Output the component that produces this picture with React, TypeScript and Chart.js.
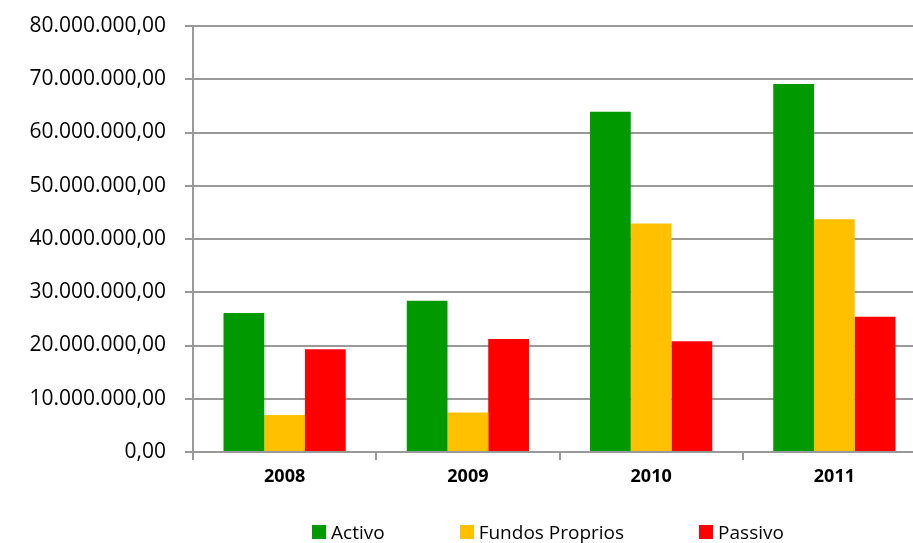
import React, { useEffect, useRef } from "react";
import { Chart, registerables } from "chart.js";

Chart.register(...registerables);

const categories = ["2008", "2009", "2010", "2011"];
const activo = [26100000, 28400000, 63900000, 69100000];
const fundosProprios = [6950000, 7400000, 42900000, 43700000];
const passivo = [19300000, 21200000, 20800000, 25400000];
const seriesNames = ["Activo", "Fundos Proprios", "Passivo"];
const seriesColors = ["#009900", "#FFC000", "#FF0000"];
const yTicks = [0, 10000000, 20000000, 30000000, 40000000, 50000000, 60000000, 70000000, 80000000];

const fmt = (v: number) => {
  const s = Math.round(v).toString().replace(/\B(?=(\d{3})+(?!\d))/g, ".");
  return s + ",00";
};

export default function App() {
  const ref = useRef<HTMLCanvasElement | null>(null);
  useEffect(() => {
    if (!ref.current) return;
    const values = [activo, fundosProprios, passivo];
    const chart = new Chart(ref.current, {
      type: "bar",
      data: {
        labels: categories,
        datasets: seriesNames.map((n, i) => ({
          label: n,
          data: values[i],
          backgroundColor: seriesColors[i],
          borderWidth: 0,
          categoryPercentage: 0.667,
          barPercentage: 1.0,
        })),
      },
      options: {
        animation: false,
        responsive: false,
        layout: { padding: { top: 26, right: 0, bottom: 51, left: 0 } },
        plugins: { legend: { display: false }, tooltip: { enabled: false } },
        scales: {
          x: {
            grid: { drawOnChartArea: false, drawTicks: true, tickLength: 8, color: "#999", lineWidth: 2 },
            border: { display: true, color: "#999", width: 2 },
            ticks: { color: "#000", font: { family: "Open Sans", size: 18, weight: "bold" }, padding: 6 },
            afterFit: (a: any) => { a.height = 40; },
          },
          y: {
            min: 0,
            max: 80000000,
            afterBuildTicks: (a: any) => { a.ticks = yTicks.map((v) => ({ value: v })); },
            grid: { color: "#999", lineWidth: 2, tickLength: 8 },
            border: { display: true, color: "#999", width: 2 },
            ticks: {
              color: "#000",
              font: { family: "Open Sans", size: 21 },
              padding: 19,
              callback: (v: any) => fmt(Number(v)),
            },
            afterFit: (a: any) => { a.width = 193; a.paddingTop = 0; a.paddingBottom = 0; },
          },
        },
      },
    });
    return () => chart.destroy();
  }, []);
  return (
    <div style={{ position: "fixed", left: 0, top: 0, width: 913, height: 543, background: "#fff", overflow: "hidden" }}>
      <canvas ref={ref} width={926} height={543} style={{ display: "block" }} />
      <div
        style={{
          position: "absolute",
          left: 193,
          width: 710,
          top: 518,
          height: 28,
          display: "flex",
          justifyContent: "center",
          alignItems: "center",
          gap: 75,
          fontFamily: "Open Sans",
          fontSize: 19,
          color: "#000",
        }}
      >
        {seriesNames.map((n, i) => (
          <div key={n} style={{ display: "flex", alignItems: "center", gap: 5, whiteSpace: "nowrap" }}>
            <span style={{ width: 14, height: 14, background: seriesColors[i], display: "inline-block" }} />
            <span>{n}</span>
          </div>
        ))}
      </div>
    </div>
  );
}
